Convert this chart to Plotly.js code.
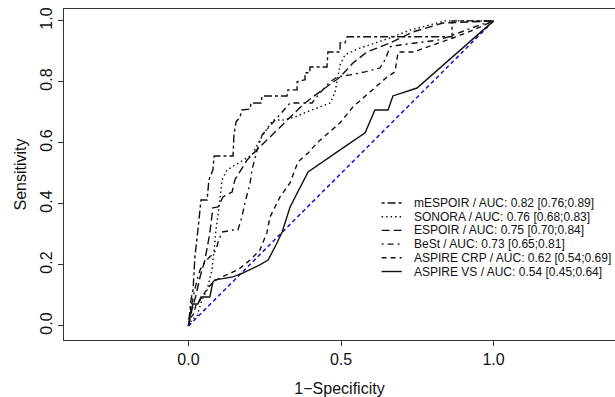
<!DOCTYPE html>
<html>
<head>
<meta charset="utf-8">
<script src="https://cdn.plot.ly/plotly-3.0.1.min.js"></script>
<style>html,body{margin:0;padding:0;background:#fff;}#chart{width:615px;height:397px;}</style>
</head>
<body>
<div id="chart"></div>
<script>
// ---- data (1-Specificity = fpr, Sensitivity = tpr) ----
const names = [
  "mESPOIR / AUC: 0.82 [0.76;0.89]",
  "SONORA / AUC: 0.76 [0.68;0.83]",
  "ESPOIR / AUC: 0.75 [0.70;0.84]",
  "BeSt / AUC: 0.73 [0.65;0.81]",
  "ASPIRE CRP / AUC: 0.62 [0.54;0.69]",
  "ASPIRE VS / AUC: 0.54 [0.45;0.64]"
];
const mespoirX = [0,0.008,0.015,0.021,0.031,0.041,0.061,0.067,0.080,0.084,0.146,0.149,0.156,0.169,0.175,0.202,0.205,0.238,0.241,0.323,0.326,0.356,0.356,0.382,0.382,0.398,0.398,0.454,0.457,0.497,0.497,0.513,0.520,0.864,0.864,1];
const mespoirY = [0,0.085,0.118,0.226,0.315,0.413,0.413,0.479,0.511,0.557,0.557,0.626,0.669,0.685,0.708,0.711,0.731,0.731,0.754,0.754,0.774,0.774,0.800,0.807,0.830,0.830,0.849,0.849,0.898,0.898,0.928,0.928,0.948,0.948,1,1];
const sonoraX = [0,0.011,0.028,0.044,0.061,0.077,0.084,0.090,0.100,0.110,0.126,0.179,0.208,0.234,0.277,0.310,0.349,0.389,0.431,0.464,0.480,0.490,0.497,0.513,0.562,0.661,0.726,0.792,0.841,1];
const sonoraY = [0,0.020,0.033,0.085,0.118,0.184,0.249,0.315,0.387,0.479,0.511,0.544,0.561,0.610,0.675,0.675,0.685,0.702,0.718,0.731,0.764,0.816,0.856,0.889,0.911,0.944,0.970,0.987,1,1];
const espoirX = [0,0.011,0.025,0.038,0.054,0.070,0.080,0.097,0.113,0.143,0.152,0.169,0.192,0.234,0.267,0.300,0.333,0.375,0.408,0.441,0.497,0.539,0.585,0.661,0.736,0.834,1];
const espoirY = [0,0.052,0.102,0.161,0.216,0.305,0.387,0.390,0.423,0.439,0.479,0.505,0.544,0.587,0.620,0.652,0.685,0.725,0.751,0.774,0.816,0.862,0.898,0.928,0.964,0.993,1];
const bestX = [0,0.005,0.015,0.025,0.038,0.054,0.077,0.090,0.097,0.110,0.149,0.162,0.175,0.185,0.202,0.208,0.225,0.241,0.284,0.333,0.405,0.431,0.464,0.487,0.530,0.579,0.628,0.644,0.661,0.693,0.825,0.907,0.956,1];
const bestY = [0,0.046,0.092,0.138,0.184,0.210,0.233,0.249,0.275,0.308,0.315,0.315,0.357,0.403,0.469,0.511,0.577,0.626,0.675,0.731,0.731,0.764,0.800,0.816,0.823,0.833,0.846,0.872,0.915,0.921,0.938,0.970,0.987,1];
const crpX = [0,0.005,0.015,0.025,0.038,0.054,0.080,0.110,0.162,0.202,0.234,0.257,0.267,0.300,0.333,0.359,0.392,0.421,0.497,0.539,0.651,0.677,0.687,0.736,0.867,0.933,1];
const crpY = [0,0.026,0.036,0.069,0.085,0.111,0.144,0.161,0.184,0.216,0.249,0.305,0.357,0.423,0.469,0.538,0.567,0.600,0.666,0.718,0.816,0.833,0.898,0.898,0.944,0.970,1];
const vsX = [0,0.008,0.015,0.031,0.041,0.070,0.080,0.087,0.146,0.179,0.234,0.261,0.290,0.307,0.333,0.392,0.497,0.579,0.611,0.654,0.670,0.749,1];
const vsY = [0,0.052,0.072,0.072,0.095,0.095,0.144,0.151,0.161,0.174,0.200,0.216,0.272,0.308,0.390,0.505,0.577,0.633,0.708,0.708,0.754,0.780,1];
const diagX = [0,1];
const diagY = [0,1];
const xTicks = [0,0.5,1];
const xTickText = ["0.0","0.5","1.0"];
const yTicks = [0,0.2,0.4,0.6,0.8,1];
const yTickText = ["0.0","0.2","0.4","0.6","0.8","1.0"];

// ---- styles ----
const dashes = ["3px,3px,8px,3px","1.5px,3px","8px,4px","2px,4px,6px,4px","5px,4px","solid"];
const seriesX = [mespoirX,sonoraX,espoirX,bestX,crpX,vsX];
const seriesY = [mespoirY,sonoraY,espoirY,bestY,crpY,vsY];
const FONT = '"Liberation Sans", Arial, Helvetica, sans-serif';

const traces = [{
  x: diagX, y: diagY, mode: 'lines', showlegend: false, hoverinfo: 'skip',
  line: {color: '#1010e0', width: 1.5, dash: '4px,3px'}
}];
seriesX.forEach((xs, i) => {
  traces.push({x: xs, y: seriesY[i], mode: 'lines', name: names[i], showlegend: false,
    line: {color: '#111', width: 1.4, dash: dashes[i]}});
});

// manual legend (no border), built from names
const legX0 = 0.633, legX1 = 0.699, legTextX = 0.734, legY0 = 0.403, legStep = 0.0449;
const shapes = [], annotations = [];
names.forEach((n, i) => {
  const yy = legY0 - i * legStep;
  shapes.push({type: 'line', xref: 'x', yref: 'y', x0: legX0, x1: legX1, y0: yy, y1: yy,
    line: {color: '#111', width: 1.4, dash: dashes[i]}});
  annotations.push({xref: 'x', yref: 'y', x: legTextX, y: yy, text: n, showarrow: false,
    xanchor: 'left', yanchor: 'middle', font: {family: FONT, size: 12, color: '#111'}});
});

const layout = {
  width: 615, height: 397,
  margin: {l: 64, r: 0, t: 9, b: 57, pad: 0},
  paper_bgcolor: '#fff', plot_bgcolor: '#fff',
  font: {family: FONT, color: '#111'},
  showlegend: false,
  xaxis: {
    range: [-0.408, 1.398], tickvals: xTicks, ticktext: xTickText,
    ticks: 'outside', ticklen: 5, tickcolor: '#333', tickwidth: 1,
    showline: true, linecolor: '#333', linewidth: 1, mirror: true,
    showgrid: false, zeroline: false,
    tickfont: {family: FONT, size: 16, color: '#111'},
    title: {text: '1\u2212Specificity', font: {family: FONT, size: 16, color: '#111'}, standoff: 15}
  },
  yaxis: {
    range: [-0.046, 1.039], tickvals: yTicks, ticktext: yTickText, tickangle: -90,
    ticks: 'outside', ticklen: 5, tickcolor: '#333', tickwidth: 1,
    showline: true, linecolor: '#333', linewidth: 1, mirror: false,
    showgrid: false, zeroline: false,
    tickfont: {family: FONT, size: 16, color: '#111'},
    title: {text: 'Sensitivity', font: {family: FONT, size: 16, color: '#111'}, standoff: 6}
  },
  shapes: shapes,
  annotations: annotations
};

Plotly.newPlot('chart', traces, layout, {staticPlot: true, displayModeBar: false});
</script>
</body>
</html>
